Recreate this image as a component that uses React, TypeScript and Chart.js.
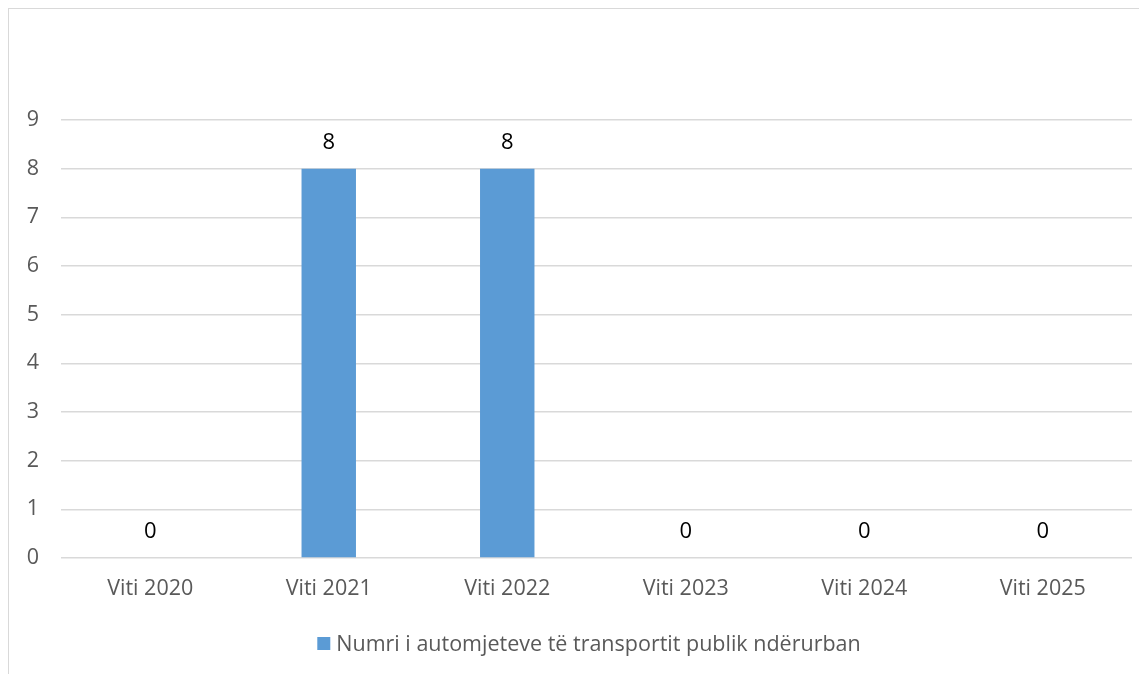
import React, { useEffect, useRef } from "react";
import { Chart, registerables } from "chart.js";

Chart.register(...registerables);

const categories = ["Viti 2020", "Viti 2021", "Viti 2022", "Viti 2023", "Viti 2024", "Viti 2025"];
const seriesName = "Numri i automjeteve të transportit publik ndërurban";
const seriesValues = [0, 8, 8, 0, 0, 0];
const yTicks = [0, 1, 2, 3, 4, 5, 6, 7, 8, 9];

const FONT = "'Open Sans', 'Liberation Sans', sans-serif";
const SERIES_COLOR = "#5b9bd5";

const dataLabels = {
  id: "dataLabels",
  afterDatasetsDraw(chart: any) {
    const ctx = chart.ctx;
    const meta = chart.getDatasetMeta(0);
    ctx.save();
    ctx.font = `22px ${FONT}`;
    ctx.fillStyle = "#000000";
    ctx.textAlign = "center";
    ctx.textBaseline = "middle";
    meta.data.forEach((el: any, i: number) => {
      ctx.fillText(String(seriesValues[i]), el.x, el.y - 26);
    });
    ctx.restore();
  },
};

const customLegend = {
  id: "customLegend",
  afterDraw(chart: any) {
    const ctx = chart.ctx;
    const area = chart.chartArea;
    ctx.save();
    ctx.font = `21.5px ${FONT}`;
    const textW = ctx.measureText(seriesName).width;
    const box = 13;
    const gap = 6;
    const total = box + gap + textW;
    const cx = (area.left + area.right) / 2 - 7.5;
    const cy = area.bottom + 86.5;
    const x0 = cx - total / 2;
    ctx.fillStyle = SERIES_COLOR;
    ctx.fillRect(x0, cy - box / 2 - 1, box, box);
    ctx.fillStyle = "#595959";
    ctx.textAlign = "left";
    ctx.textBaseline = "middle";
    ctx.fillText(seriesName, x0 + box + gap, cy);
    ctx.restore();
  },
};

export default function App() {
  const ref = useRef<HTMLCanvasElement | null>(null);

  useEffect(() => {
    document.body.style.overflow = "hidden";
    const chart = new Chart(ref.current as HTMLCanvasElement, {
      type: "bar",
      data: {
        labels: categories,
        datasets: [
          {
            label: seriesName,
            data: seriesValues,
            backgroundColor: SERIES_COLOR,
            borderWidth: 0,
            barPercentage: 1,
            categoryPercentage: 0.305,
          },
        ],
      },
      options: {
        responsive: false,
        animation: false,
        layout: { padding: { left: 0, right: 15, top: 111, bottom: 66 } },
        plugins: {
          tooltip: { enabled: false },
          legend: { display: false },
        },
        scales: {
          x: {
            grid: { display: false },
            border: { display: false },
            ticks: {
              font: { family: FONT, size: 21.5 },
              color: "#595959",
              padding: 10,
              maxRotation: 0,
            },
            afterFit(scale: any) {
              scale.height = 50;
            },
          },
          y: {
            min: 0,
            max: 9,
            afterBuildTicks(scale: any) {
              scale.ticks = yTicks.map((v) => ({ value: v }));
            },
            grid: { color: "#d9d9d9", lineWidth: 1.5, drawTicks: false },
            border: { display: false },
            ticks: {
              font: { family: FONT, size: 21.5 },
              color: "#595959",
              padding: 22,
            },
            afterFit(scale: any) {
              scale.width = 52;
            },
          },
        },
      },
      plugins: [dataLabels, customLegend],
    } as any);
    return () => chart.destroy();
  }, []);

  return (
    <div
      style={{
        position: "relative",
        width: 1139,
        height: 666,
        borderTop: "1px solid #d9d9d9",
        borderLeft: "1px solid #d9d9d9",
        boxSizing: "border-box",
      }}
    >
      <canvas ref={ref} width={1138} height={665} style={{ display: "block" }} />
    </div>
  );
}
